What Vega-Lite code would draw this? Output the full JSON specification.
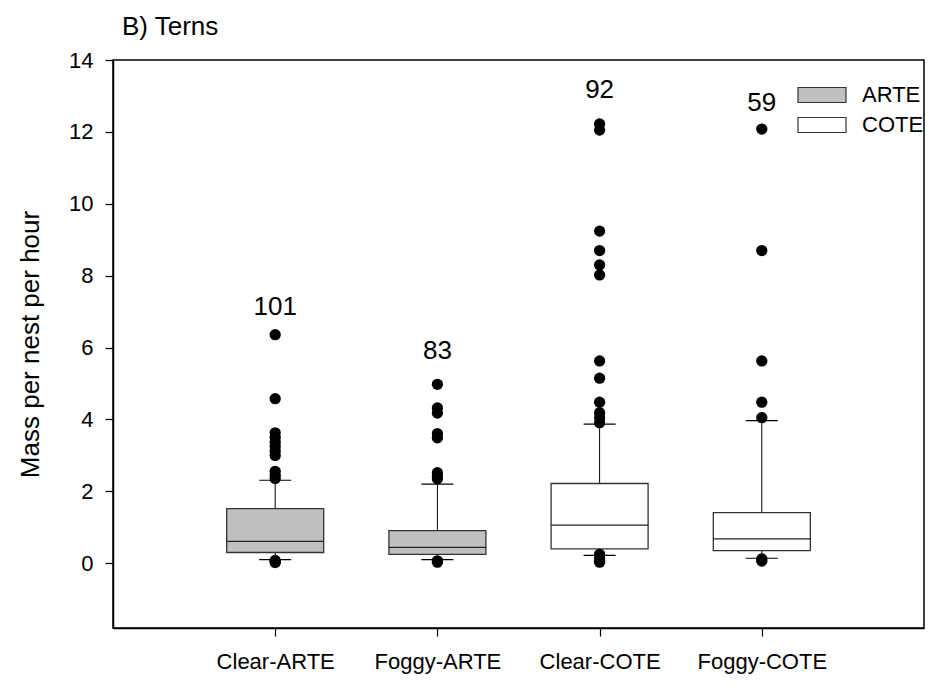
{
  "$schema": "https://vega.github.io/schema/vega-lite/v6.json",
  "autosize": "none",
  "width": 811,
  "height": 568,
  "padding": {"left": 113, "top": 60, "right": 7, "bottom": 59},
  "background": "white",
  "title": {"text": "B) Terns", "anchor": "start", "frame": "group", "dx": 9, "dy": 32, "offset": 20, "baseline": "alphabetic", "fontSize": 26, "fontWeight": "normal", "font": "Liberation Sans", "color": "black"},
  "config": {
    "font": "Liberation Sans",
    "view": {"stroke": "black", "strokeWidth": 1.5},
    "axis": {"domainColor": "black", "domainWidth": 1.5, "tickColor": "black", "tickWidth": 1.2, "tickSize": 8, "labelColor": "black", "titleColor": "black", "grid": false, "labelFont": "Liberation Sans", "titleFont": "Liberation Sans"}
  },
  "datasets": {
    "boxes": [
      {"group": "Clear-ARTE", "species": "ARTE", "lower": 0.10, "q1": 0.30, "median": 0.61, "q3": 1.52, "upper": 2.31},
      {"group": "Foggy-ARTE", "species": "ARTE", "lower": 0.10, "q1": 0.25, "median": 0.44, "q3": 0.91, "upper": 2.20},
      {"group": "Clear-COTE", "species": "COTE", "lower": 0.22, "q1": 0.40, "median": 1.06, "q3": 2.22, "upper": 3.87},
      {"group": "Foggy-COTE", "species": "COTE", "lower": 0.14, "q1": 0.35, "median": 0.68, "q3": 1.41, "upper": 3.97}
    ],
    "outliers": [
      {"group": "Clear-ARTE", "value": 6.36},
      {"group": "Clear-ARTE", "value": 4.58},
      {"group": "Clear-ARTE", "value": 3.63},
      {"group": "Clear-ARTE", "value": 3.50},
      {"group": "Clear-ARTE", "value": 3.37},
      {"group": "Clear-ARTE", "value": 3.25},
      {"group": "Clear-ARTE", "value": 3.12},
      {"group": "Clear-ARTE", "value": 3.00},
      {"group": "Clear-ARTE", "value": 2.56},
      {"group": "Clear-ARTE", "value": 2.45},
      {"group": "Clear-ARTE", "value": 2.36},
      {"group": "Clear-ARTE", "value": 0.08},
      {"group": "Clear-ARTE", "value": 0.05},
      {"group": "Clear-ARTE", "value": 0.02},
      {"group": "Foggy-ARTE", "value": 4.98},
      {"group": "Foggy-ARTE", "value": 4.32},
      {"group": "Foggy-ARTE", "value": 4.18},
      {"group": "Foggy-ARTE", "value": 3.61},
      {"group": "Foggy-ARTE", "value": 3.49},
      {"group": "Foggy-ARTE", "value": 2.52},
      {"group": "Foggy-ARTE", "value": 2.43},
      {"group": "Foggy-ARTE", "value": 2.35},
      {"group": "Foggy-ARTE", "value": 0.07},
      {"group": "Foggy-ARTE", "value": 0.03},
      {"group": "Clear-COTE", "value": 12.22},
      {"group": "Clear-COTE", "value": 12.05},
      {"group": "Clear-COTE", "value": 9.24},
      {"group": "Clear-COTE", "value": 8.70},
      {"group": "Clear-COTE", "value": 8.30},
      {"group": "Clear-COTE", "value": 8.02},
      {"group": "Clear-COTE", "value": 5.63},
      {"group": "Clear-COTE", "value": 5.15},
      {"group": "Clear-COTE", "value": 4.48},
      {"group": "Clear-COTE", "value": 4.19},
      {"group": "Clear-COTE", "value": 4.05},
      {"group": "Clear-COTE", "value": 3.91},
      {"group": "Clear-COTE", "value": 0.25},
      {"group": "Clear-COTE", "value": 0.15},
      {"group": "Clear-COTE", "value": 0.08},
      {"group": "Clear-COTE", "value": 0.03},
      {"group": "Foggy-COTE", "value": 12.08},
      {"group": "Foggy-COTE", "value": 8.70},
      {"group": "Foggy-COTE", "value": 5.63},
      {"group": "Foggy-COTE", "value": 4.48},
      {"group": "Foggy-COTE", "value": 4.05},
      {"group": "Foggy-COTE", "value": 0.12},
      {"group": "Foggy-COTE", "value": 0.06}
    ],
    "labels": [
      {"group": "Clear-ARTE", "n": "101", "pos": 6.92},
      {"group": "Foggy-ARTE", "n": "83", "pos": 5.67},
      {"group": "Clear-COTE", "n": "92", "pos": 12.95},
      {"group": "Foggy-COTE", "n": "59", "pos": 12.58}
    ]
  },
  "encoding": {
    "x": {
      "field": "group", "type": "nominal",
      "scale": {"type": "point", "padding": 1, "domain": ["Clear-ARTE", "Foggy-ARTE", "Clear-COTE", "Foggy-COTE"]},
      "axis": {"title": null, "labelFontSize": 22, "labelAngle": 0, "labelPadding": 15}
    }
  },
  "layer": [
    {
      "data": {"name": "boxes"},
      "mark": {"type": "rule", "color": "black", "strokeWidth": 1},
      "encoding": {
        "y": {"field": "lower", "type": "quantitative", "title": "Mass per nest per hour",
          "scale": {"domain": [-1.8, 14], "nice": false, "zero": false},
          "axis": {"values": [0, 2, 4, 6, 8, 10, 12, 14], "labelFontSize": 22, "labelPadding": 12, "titleFontSize": 26, "titleFontWeight": "normal", "titlePadding": 25}},
        "y2": {"field": "upper"}
      }
    },
    {
      "data": {"name": "boxes"},
      "mark": {"type": "tick", "color": "black", "size": 32, "thickness": 1.2, "opacity": 1},
      "encoding": {"y": {"field": "lower", "type": "quantitative", "title": "Mass per nest per hour"}}
    },
    {
      "data": {"name": "boxes"},
      "mark": {"type": "tick", "color": "black", "size": 32, "thickness": 1.2, "opacity": 1},
      "encoding": {"y": {"field": "upper", "type": "quantitative", "title": "Mass per nest per hour"}}
    },
    {
      "data": {"name": "boxes"},
      "mark": {"type": "bar", "size": 97, "stroke": "#333333", "strokeWidth": 1.3, "opacity": 1},
      "encoding": {
        "y": {"field": "q1", "type": "quantitative", "title": "Mass per nest per hour"},
        "y2": {"field": "q3"},
        "fill": {
          "field": "species", "type": "nominal",
          "scale": {"domain": ["ARTE", "COTE"], "range": ["#c0c0c0", "#ffffff"]},
          "legend": {
            "title": null, "orient": "none", "legendX": 693, "legendY": 19, "padding": 0, "rowPadding": 3,
            "symbolType": "M-1.6,-0.5H1.6V0.5H-1.6Z", "symbolSize": 900, "symbolStrokeColor": "#333333", "symbolStrokeWidth": 1.2, "symbolOpacity": 1,
            "labelFontSize": 22, "labelColor": "black", "labelOffset": 24, "labelFont": "Liberation Sans"
          }
        }
      }
    },
    {
      "data": {"name": "boxes"},
      "mark": {"type": "tick", "color": "#222222", "size": 97, "thickness": 1.3, "opacity": 1},
      "encoding": {"y": {"field": "median", "type": "quantitative", "title": "Mass per nest per hour"}}
    },
    {
      "data": {"name": "outliers"},
      "mark": {"type": "circle", "color": "black", "size": 127, "opacity": 1},
      "encoding": {"y": {"field": "value", "type": "quantitative", "title": "Mass per nest per hour"}}
    },
    {
      "data": {"name": "labels"},
      "mark": {"type": "text", "fontSize": 26, "color": "black", "baseline": "alphabetic", "align": "center"},
      "encoding": {
        "y": {"field": "pos", "type": "quantitative", "title": "Mass per nest per hour"},
        "text": {"field": "n"}
      }
    }
  ]
}
